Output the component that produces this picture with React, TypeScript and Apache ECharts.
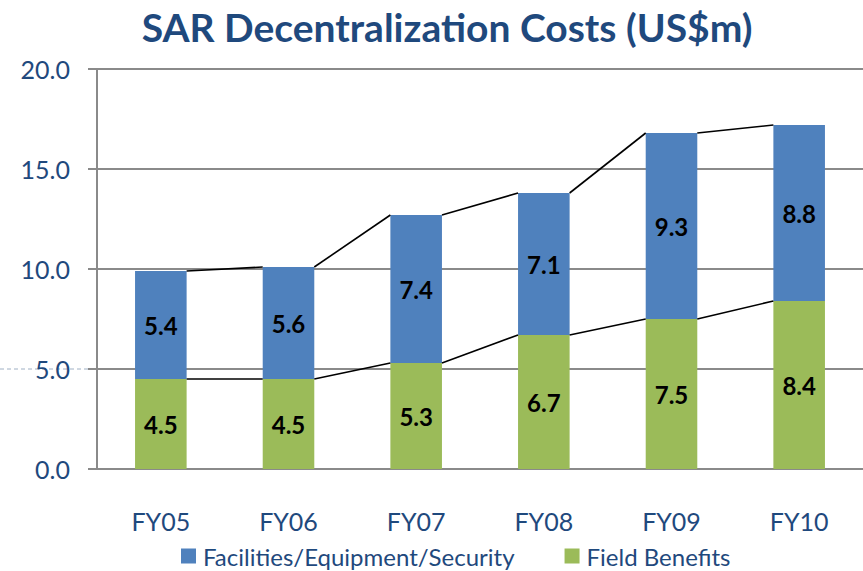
import React, { useEffect, useRef } from "react";
import * as echarts from "echarts";

const categories = ["FY05", "FY06", "FY07", "FY08", "FY09", "FY10"];
const fieldBenefits = [4.5, 4.5, 5.3, 6.7, 7.5, 8.4];
const facilities = [5.4, 5.6, 7.4, 7.1, 9.3, 8.8];
const yTicks = [0, 5, 10, 15, 20];

const BLUE = "#4F81BD";
const GREEN = "#9BBB59";
const TEXT = "#1F497D";
const FONT = "Lato";
const BAR_FRAC = 0.404;

export default function App() {
  const ref = useRef<HTMLDivElement>(null);
  useEffect(() => {
    if (!ref.current) return;
    const chart = echarts.init(ref.current, undefined, { renderer: "svg" });
    const totals = fieldBenefits.map((v, i) => v + facilities[i]);
    const segs = (arr: number[]) =>
      arr.slice(0, -1).map((v, i) => [i, v, arr[i + 1]]);
    const renderSeg = (params: any, api: any) => {
      const i = api.value(0);
      const a = api.coord([i, api.value(1)]);
      const b = api.coord([i + 1, api.value(2)]);
      const band = api.size([1, 0])[0];
      const hw = (band * BAR_FRAC) / 2;
      return {
        type: "line",
        shape: { x1: a[0] + hw, y1: a[1], x2: b[0] - hw, y2: b[1] },
        style: { stroke: "#000", lineWidth: 1.6 },
      };
    };
    const labelStyle = {
      show: true,
      position: "inside",
      fontFamily: FONT,
      fontWeight: "bold",
      fontSize: 24,
      color: "#000",
      formatter: (p: any) => Number(p.value).toFixed(1),
    };
    chart.setOption({
      animation: false,
      textStyle: { fontFamily: FONT },
      graphic: [
        {
          type: "text",
          x: 447,
          y: 27,
          style: {
            text: "SAR Decentralization Costs (US$m)",
            fontFamily: FONT,
            fontWeight: "bold",
            fontSize: 39,
            fill: TEXT,
            align: "center",
            verticalAlign: "middle",
          },
        },
        {
          type: "line",
          shape: { x1: 0, y1: 369, x2: 88, y2: 369 },
          style: { stroke: "#9fb0c4", lineWidth: 1, lineDash: [4, 3] },
          z: -1,
        },
      ],
      grid: { left: 97, right: -6, top: 69, bottom: 102 },
      legend: {
        data: ["Facilities/Equipment/Security", "Field Benefits"],
        left: 181,
        top: 544,
        padding: 0,
        icon: "rect",
        itemWidth: 15,
        itemHeight: 15,
        itemGap: 50,
        textStyle: {
          fontSize: 24,
          lineHeight: 22,
          color: TEXT,
          fontFamily: FONT,
          padding: [0, 0, 0, 2],
        },
      },
      xAxis: {
        type: "category",
        data: categories,
        axisLine: { show: false },
        axisTick: { show: false },
        axisLabel: {
          margin: 39,
          fontSize: 25,
          color: TEXT,
          fontFamily: FONT,
        },
      },
      yAxis: {
        type: "value",
        min: yTicks[0],
        max: yTicks[yTicks.length - 1],
        interval: 5,
        axisLine: { show: true, lineStyle: { color: "#8a8a8a", width: 2 } },
        axisTick: {
          show: true,
          inside: false,
          length: 9,
          lineStyle: { color: "#8a8a8a", width: 2 },
        },
        splitLine: { lineStyle: { color: "#8a8a8a", width: 2 } },
        axisLabel: {
          margin: 27,
          fontSize: 25,
          color: TEXT,
          fontFamily: FONT,
          formatter: (v: number) => v.toFixed(1),
        },
      },
      series: [
        {
          name: "Field Benefits",
          type: "bar",
          stack: "total",
          data: fieldBenefits,
          barWidth: (BAR_FRAC * 100).toFixed(1) + "%",
          itemStyle: { color: GREEN },
          label: labelStyle,
          z: 3,
        },
        {
          name: "Facilities/Equipment/Security",
          type: "bar",
          stack: "total",
          data: facilities,
          barWidth: (BAR_FRAC * 100).toFixed(1) + "%",
          itemStyle: { color: BLUE },
          label: labelStyle,
          z: 3,
        },
        {
          name: "lowerLine",
          type: "custom",
          renderItem: renderSeg,
          encode: { x: 0, y: [1, 2] },
          data: segs(fieldBenefits),
          silent: true,
          z: 5,
        },
        {
          name: "upperLine",
          type: "custom",
          renderItem: renderSeg,
          encode: { x: 0, y: [1, 2] },
          data: segs(totals),
          silent: true,
          z: 5,
        },
      ],
    });
    return () => chart.dispose();
  }, []);
  return (
    <div
      ref={ref}
      style={{ position: "absolute", left: 0, top: 0, width: 863, height: 571 }}
    />
  );
}
